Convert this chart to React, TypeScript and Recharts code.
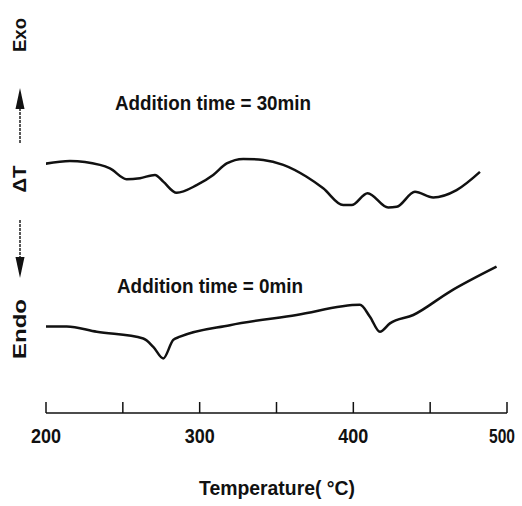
import { LineChart, Line, XAxis, YAxis } from "recharts";

// DTA curve, addition time = 30 min (temperature °C, ΔT arbitrary units)
const temps30 = [198, 215.6, 235.1, 241.6, 252.5, 261.2, 270.9, 276.3, 285, 298, 308.8, 317.6, 328.4, 341.4, 354.4, 369.6, 380.4, 393.4, 398.9, 409.3, 422.7, 428.2, 440.1, 452, 467.2, 482.4];
const dta30 = [71.1, 72.0, 70.9, 69.9, 66.8, 67.1, 68.0, 66.1, 62.9, 65.1, 68.0, 71.3, 72.6, 72.3, 70.9, 67.5, 64.2, 59.4, 59.4, 62.8, 58.7, 58.9, 63.2, 61.6, 63.7, 68.9];

// DTA curve, addition time = 0 min
const temps0 = [198.2, 213.5, 233, 263.3, 269.8, 276.3, 282.8, 287.2, 319.7, 363.1, 404.3, 410.8, 417.3, 423.8, 439, 462.9, 493.2];
const dta0 = [24.7, 24.7, 23.2, 21.3, 18.9, 15.6, 20.9, 21.8, 25.1, 28.0, 30.9, 27.5, 23.2, 25.6, 28.0, 34.7, 41.8];

const xTicks = [200, 250, 300, 350, 400, 450, 500];
const labeledTicks = [200, 300, 400, 500];

const curve30 = temps30.map((t, i) => ({ t, v: dta30[i] }));
const curve0 = temps0.map((t, i) => ({ t, v: dta0[i] }));

const FONT = "'Liberation Sans', Arial, sans-serif";

function TempTick(props: any) {
  const { x, y, payload } = props;
  const showLabel = labeledTicks.includes(payload.value);
  // last label is pushed in from the right edge
  const isLast = payload.value === 500;
  return (
    <g>
      <line x1={x} x2={x} y1={y} y2={y - 11} stroke="#111" strokeWidth={1.5} />
      {showLabel && (
        <text
          x={isLast ? 515 : x}
          y={y + 30}
          textAnchor={isLast ? "end" : "middle"}
          fontFamily={FONT}
          fontWeight="bold"
          fontSize={isLast ? 20 : 21}
          fill="#111"
          textLength={isLast ? 26 : 30}
          lengthAdjust="spacingAndGlyphs"
        >
          {payload.value}
        </text>
      )}
    </g>
  );
}

export default function App() {
  const textStyle = {
    fontFamily: FONT,
    fontWeight: "bold" as const,
    fill: "#111",
  };

  return (
    <div style={{ position: "absolute", left: 0, top: 0, width: 522, height: 506, background: "#fff" }}>
      <LineChart
        width={522}
        height={506}
        margin={{ top: 63, right: 15, bottom: 63, left: 46 }}
      >
        <XAxis
          type="number"
          dataKey="t"
          domain={[200, 500]}
          ticks={xTicks}
          allowDataOverflow
          height={30}
          tickSize={0}
          tickMargin={0}
          tickLine={false}
          axisLine={{ stroke: "#111", strokeWidth: 1.5 }}
          tick={<TempTick />}
        />
        <YAxis type="number" domain={[0, 100]} hide />
        <Line
          data={curve30}
          dataKey="v"
          type="monotone"
          stroke="#111"
          strokeWidth={2.5}
          dot={false}
          isAnimationActive={false}
        />
        <Line
          data={curve0}
          dataKey="v"
          type="monotone"
          stroke="#111"
          strokeWidth={2.5}
          dot={false}
          isAnimationActive={false}
        />
      </LineChart>
      <svg
        width={522}
        height={506}
        style={{ position: "absolute", left: 0, top: 0, pointerEvents: "none" }}
      >
        <text x={115} y={110} fontSize={20} textLength={196} lengthAdjust="spacingAndGlyphs" {...textStyle}>
          Addition time = 30min
        </text>
        <text x={117} y={293} fontSize={20} textLength={186} lengthAdjust="spacingAndGlyphs" {...textStyle}>
          Addition time = 0min
        </text>
        <text x={199} y={495} fontSize={21} textLength={156} lengthAdjust="spacingAndGlyphs" {...textStyle}>
          Temperature( °C)
        </text>

        <text x={26} y={35} fontSize={18} textAnchor="middle" textLength={34} lengthAdjust="spacingAndGlyphs" transform="rotate(-90 26 35)" {...textStyle}>
          Exo
        </text>
        <text x={26} y={179} fontSize={18} textAnchor="middle" textLength={27} lengthAdjust="spacingAndGlyphs" transform="rotate(-90 26 179)" {...textStyle}>
          ΔT
        </text>
        <text x={26} y={329} fontSize={18} textAnchor="middle" textLength={60} lengthAdjust="spacingAndGlyphs" transform="rotate(-90 26 329)" {...textStyle}>
          Endo
        </text>

        <line x1={20} x2={20} y1={143} y2={104} stroke="#222" strokeWidth={1.5} strokeDasharray="3 1" />
        <polygon points="20,88 15.5,109 24.5,109" fill="#111" />
        <line x1={20} x2={20} y1={220} y2={258} stroke="#222" strokeWidth={1.5} strokeDasharray="3 1" />
        <polygon points="20,278 15.5,257 24.5,257" fill="#111" />
      </svg>
    </div>
  );
}
